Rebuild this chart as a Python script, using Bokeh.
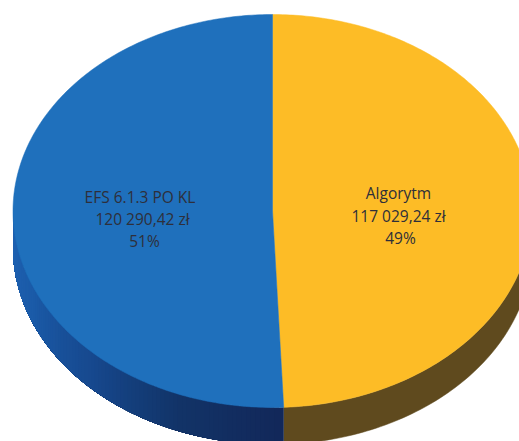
import numpy as np
from bokeh.plotting import figure
from bokeh.embed import file_html
from bokeh.resources import INLINE
from bokeh.core.properties import value

names = ["Algorytm", "EFS 6.1.3 PO KL"]
amounts = [117029.24, 120290.42]
amount_labels = ["117 029,24 zł", "120 290,42 zł"]
percent_labels = ["49%", "51%"]
face_colors = ["#FDBC26", "#1F70BC"]
yellow_side = "#5F4A1E"
blue_side_stops = ["#12285A", "#123468", "#17498F", "#1B5BA8", "#2063B4"]

W, H = 519, 441
cx, cy, rx, ry, depth = 272, 210.5, 259.5, 196.5, 37

p = figure(width=W, height=H, x_range=(0, W), y_range=(H, 0),
           output_backend="svg", toolbar_location=None, min_border=0,
           outline_line_color=None, background_fill_color="white")
p.axis.visible = False
p.grid.visible = False

def pt(t, dy=0.0):
    return cx + rx * np.sin(t), cy - ry * np.cos(t) + dy

split = 2 * np.pi * amounts[0] / sum(amounts)
end = 3 * np.pi / 2

# extruded edge: yellow part
t = np.linspace(np.pi / 2, split, 80)
x0, y0 = pt(t)
x1, y1 = pt(t[::-1], depth)
p.patch(np.r_[x0, x1], np.r_[y0, y1], fill_color=yellow_side, line_color=yellow_side, line_width=0.5)

# extruded edge: blue part, shaded along the arc (each strip runs to the arc's end)
edges = np.linspace(split, end, 90)
def hex2rgb(c):
    return np.array([int(c[i:i + 2], 16) for i in (1, 3, 5)], float)
stops = np.array([hex2rgb(c) for c in blue_side_stops])
for a in edges[:-1]:
    f = (a - split) / (end - split)
    rgb = [np.interp(f, np.linspace(0, 1, len(stops)), stops[:, k]) for k in range(3)]
    col = "#%02X%02X%02X" % tuple(int(v) for v in rgb)
    t = np.linspace(a, end, 60)
    x0, y0 = pt(t)
    x1, y1 = pt(t[::-1], depth)
    p.patch(np.r_[x0, x1], np.r_[y0, y1], fill_color=col, line_color=None)

# top face
for start, stop, col in [(0, split, face_colors[0]), (split, 2 * np.pi, face_colors[1])]:
    t = np.linspace(start, stop, 240)
    x, y = pt(t)
    p.patch(np.r_[cx, x], np.r_[cy, y], fill_color=col, line_color=col, line_width=0.5)

# labels
label_x = [[398, 398, 400], [139.5, 142, 144]]
label_y = [[192.5, 215, 237], [196, 218, 240]]
for i in range(2):
    lines = [names[i], amount_labels[i], percent_labels[i]]
    p.text(label_x[i], label_y[i], text=lines,
           text_font=value("Open Sans"), text_font_size="15.5px", text_color="#2E2F3A",
           text_align="center", text_baseline="middle")

open("out.html", "w").write(file_html(p, INLINE))
